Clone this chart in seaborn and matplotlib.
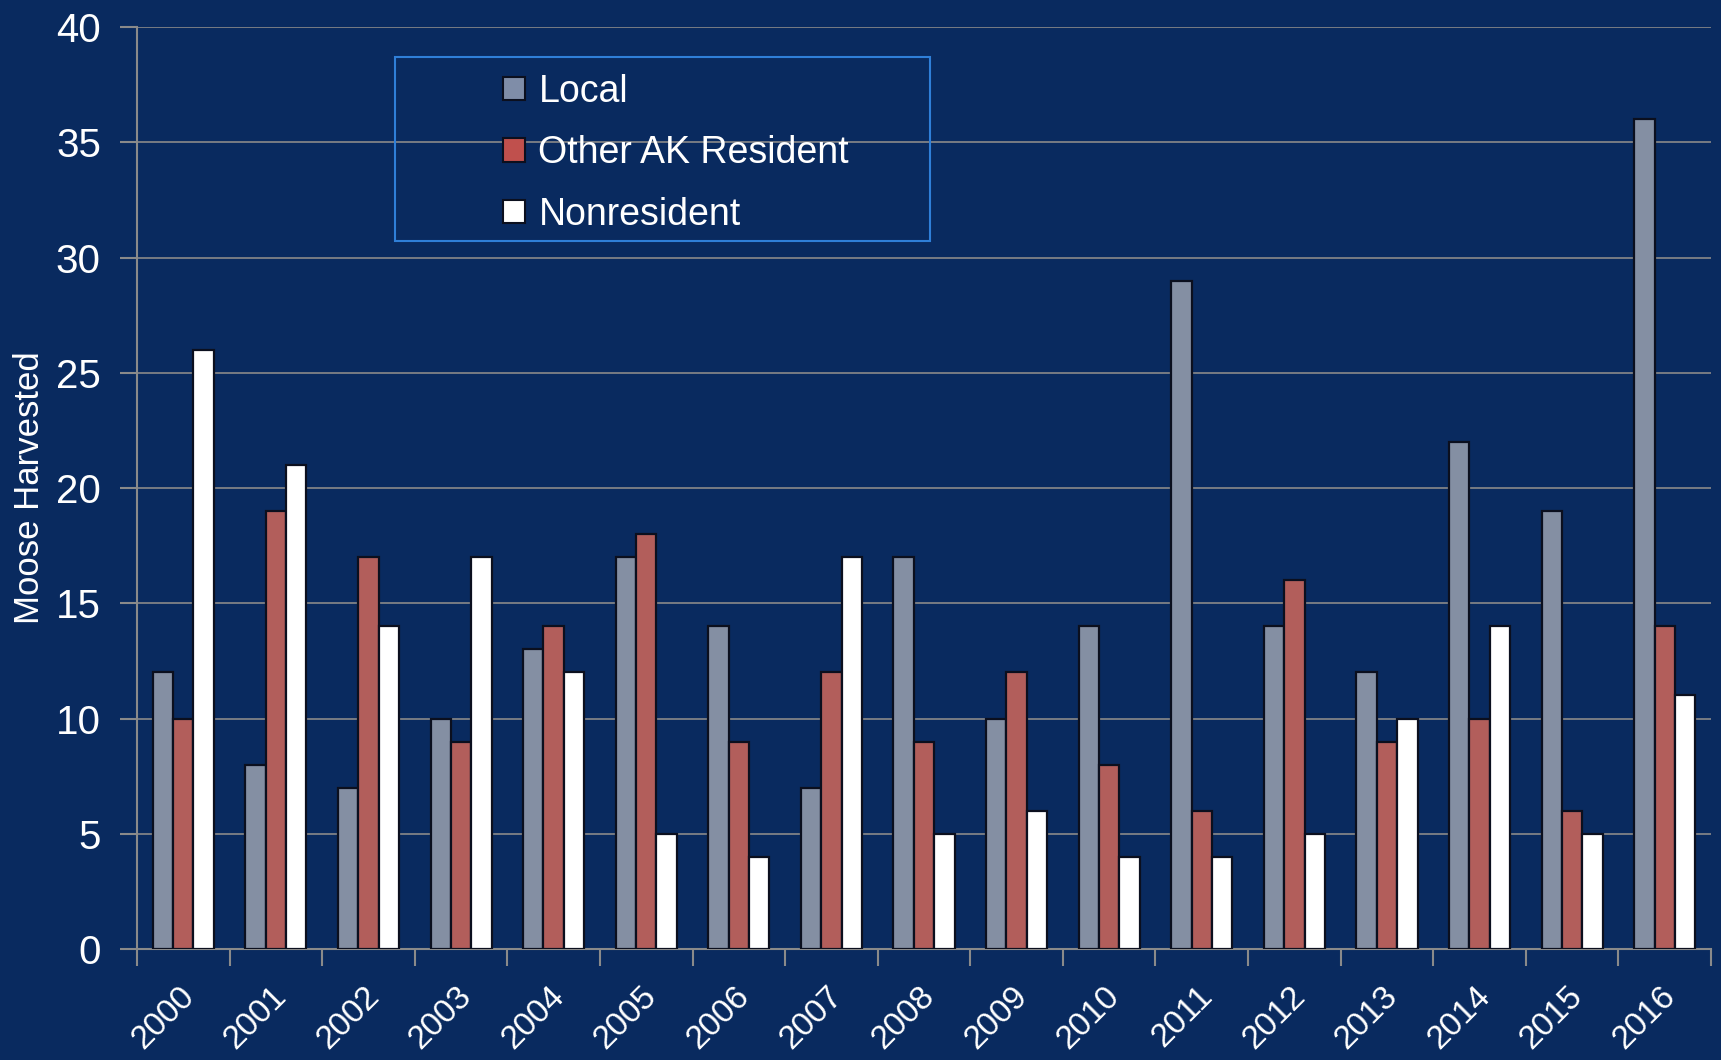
import numpy as np
import pandas as pd
import matplotlib
matplotlib.use("Agg")
import matplotlib.pyplot as plt
from matplotlib.patches import Rectangle, Patch
from matplotlib.transforms import ScaledTranslation
import seaborn as sns

# Data
years = [str(y) for y in range(2000, 2017)]
local = [12, 8, 7, 10, 13, 17, 14, 7, 17, 10, 14, 29, 14, 12, 22, 19, 36]
other_ak = [10, 19, 17, 9, 14, 18, 9, 12, 9, 12, 8, 6, 16, 9, 10, 6, 14]
nonres = [26, 21, 14, 17, 12, 5, 4, 17, 5, 6, 4, 4, 5, 10, 14, 5, 11]
groups = ["Local", "Other AK Resident", "Nonresident"]
colors = ["#7f8da8", "#c0504d", "#ffffff"]

df = pd.DataFrame({
    "Year": years * 3,
    "Group": [groups[0]] * 17 + [groups[1]] * 17 + [groups[2]] * 17,
    "Moose": local + other_ak + nonres,
})

bg = "#092a5f"
grid_c = "#8a8a8a"

sns.set_theme(style="white")
plt.rcParams["font.family"] = ["Liberation Sans", "DejaVu Sans"]

fig = plt.figure(figsize=(17.21, 10.60), dpi=100, facecolor=bg)
ax = fig.add_axes([0.0796, 0.1047, 0.9146, 0.8698])
ax.set_facecolor(bg)

sns.barplot(data=df, x="Year", y="Moose", hue="Group", palette=colors,
            width=0.66, gap=0, edgecolor="#0b0f1e", linewidth=1.6,
            legend=False, ax=ax, zorder=3)

ax.set_ylim(0, 40)
ax.set_xlim(-0.5, 16.5)
ax.set_yticks(range(0, 41, 5))
ax.yaxis.grid(True, color=grid_c, linewidth=1.2, zorder=0)
ax.set_axisbelow(True)

for s in ["top", "right"]:
    ax.spines[s].set_visible(False)
for s in ["left", "bottom"]:
    ax.spines[s].set_color(grid_c)
    ax.spines[s].set_linewidth(1.5)

ax.tick_params(axis="y", colors=grid_c, labelcolor="white", labelsize=29,
               length=12, width=1.5, direction="out", pad=14, left=True)
ax.set_xticks(np.arange(17))
ax.set_xticklabels(years, rotation=45, ha="right", rotation_mode="anchor")
ax.tick_params(axis="x", which="major", length=0, labelcolor="white",
               labelsize=24, pad=23)
ax.set_xticks(np.arange(-0.5, 17, 1), minor=True)
ax.tick_params(axis="x", which="minor", length=12, width=1.5,
               color=grid_c, direction="out", bottom=True)
for lbl in ax.get_xticklabels():
    lbl.set_transform(lbl.get_transform() + ScaledTranslation(-0.05, 0, fig.dpi_scale_trans))

ax.set_xlabel("")
ax.set_ylabel("Moose Harvested", color="white", fontsize=25)
ax.yaxis.set_label_coords(-0.058, 0.5)

# legend box
fig.patches.append(Rectangle((395 / 1721, 1 - 241 / 1060), (930 - 395) / 1721,
                             (241 - 57) / 1060, transform=fig.transFigure,
                             facecolor="none", edgecolor="#2f7fd8", linewidth=1.5))
handles = [Patch(facecolor=c, edgecolor="#0b0f1e", linewidth=1.5) for c in colors]
leg = fig.legend(handles, groups, loc="upper left",
                 bbox_to_anchor=(484 / 1721, 1 - 55 / 1060),
                 frameon=False, fontsize=27, handlelength=0.6, handleheight=0.6,
                 handletextpad=0.35, labelspacing=0.68, borderpad=0)
for t in leg.get_texts():
    t.set_color("white")

fig.savefig("out.png", dpi=100, facecolor=bg)
